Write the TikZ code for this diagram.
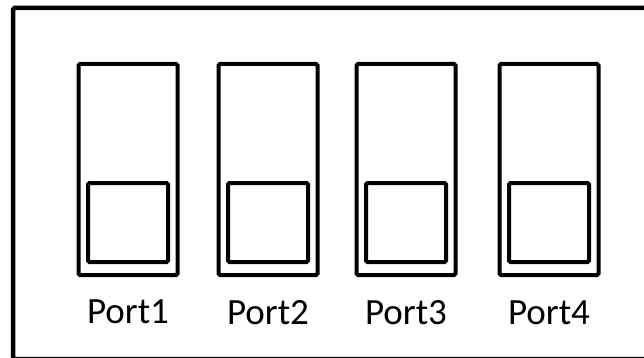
\documentclass[tikz,border=0pt]{standalone}
\usepackage{fontspec}
\newfontfamily\portfont{Carlito}
\usepackage{tikz}
\usetikzlibrary{
  positioning
}

\begin{document}
\begin{tikzpicture}[
  x=1pt, y=-1pt,
  portbox/.style={
    draw, line width=4pt, rounded corners=1.5pt, outer sep=0pt,
    minimum width=99pt, minimum height=211pt, inner sep=0pt
  },
  slotbox/.style={
    draw, line width=4pt, rounded corners=1.5pt, outer sep=0pt,
    minimum width=80pt, minimum height=79pt, inner sep=0pt
  },
  frame/.style={draw, line width=4.5pt, rounded corners=1.5pt},
  portlbl/.style={font=\portfont\fontsize{37}{44}\selectfont, anchor=base, inner sep=0pt}
]
  \useasboundingbox (0,0) rectangle (644,358);

  % ── Enclosure (cut off right and bottom) ──
  \draw[frame] (13,8) rectangle (660,359);

  % ── Port housings ──
  \node[portbox] (p1) at (128,169.5) {};
  \node[portbox, right=41pt of p1] (p2) {};
  \node[portbox, right=39pt of p2] (p3) {};
  \node[portbox, right=44pt of p3] (p4) {};

  % ── Slots ──
  \node[slotbox, above=13pt of p1.south, anchor=south] (s1) {};
  \node[slotbox, above=13pt of p2.south, anchor=south] (s2) {};
  \node[slotbox, above=13pt of p3.south, anchor=south] (s3) {};
  \node[slotbox, above=13pt of p4.south, anchor=south] (s4) {};

  % ── Labels ──
  \node[portlbl] (l1) at ([yshift=-48pt]p1.south) {Port1};
  \node[portlbl] (l2) at ([yshift=-49pt]p2.south) {Port2};
  \node[portlbl] (l3) at ([yshift=-49pt]p3.south) {Port3};
  \node[portlbl] (l4) at ([yshift=-49pt]p4.south) {Port4};

\end{tikzpicture}
\end{document}
